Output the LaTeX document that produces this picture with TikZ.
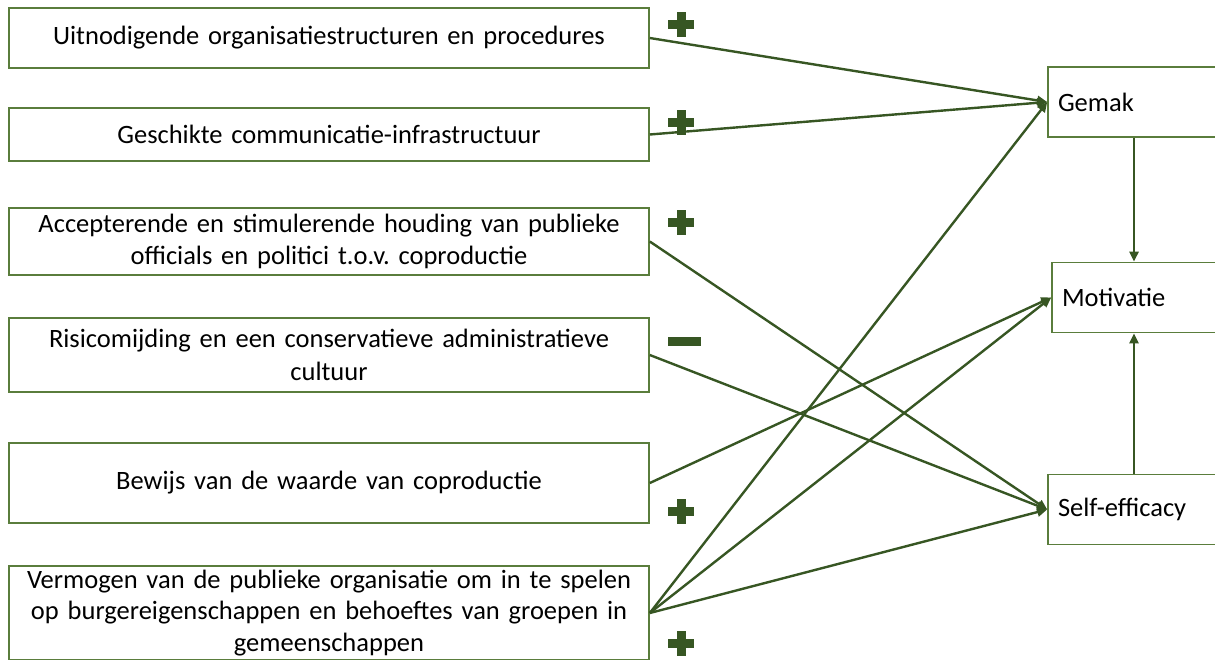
\documentclass[tikz,border=0pt]{standalone}
\usepackage{fontspec}
\setmainfont{Carlito}
\frenchspacing
\usetikzlibrary{arrows.meta,positioning}
\definecolor{boxgreen}{HTML}{5A7D3C}
\definecolor{darkgreen}{HTML}{375623}
\tikzset{plusmark/.pic={\fill[darkgreen] (-13,-4.5) rectangle (13,4.5); \fill[darkgreen] (-4.5,-12.5) rectangle (4.5,12.5);}}

\begin{document}
\begin{tikzpicture}[x=1pt,y=-1pt,every node/.style={font=\fontsize{26.5}{32.5}\selectfont},
  factor/.style={draw=boxgreen,line width=1.6pt,minimum width=640pt,text width=630pt,align=center,inner sep=0pt},
  effect/.style={draw=boxgreen,line width=1.6pt,minimum width=172pt,text width=152pt,inner xsep=10pt,inner ysep=0pt,align=left,minimum height=70pt},
  link/.style={draw=darkgreen,line width=2.4pt,-{Triangle[length=10pt,width=9pt]}}]
\useasboundingbox (0,0) rectangle (1215,659);
% factors on the left
\node[factor,minimum height=60pt] (f1) at (329,38) {Uitnodigende organisatiestructuren en procedures};
\node[factor,minimum height=53pt] (f2) at (329,134.5) {Geschikte communicatie-infrastructuur};
\node[factor,minimum height=67pt] (f3) at (329,241.5) {Accepterende en stimulerende houding van publieke\\officials en politici t.o.v. coproductie};
\node[factor,minimum height=74pt] (f4) at (329,355) {Risicomijding en een conservatieve administratieve\\cultuur};
\node[factor,minimum height=80pt] (f5) at (329,483) {Bewijs van de waarde van coproductie};
\node[factor,minimum height=94pt,font=\fontsize{26.5}{31.5}\selectfont] (f6) at (329,613) {Vermogen van de publieke organisatie om in te spelen\\op burgereigenschappen en behoeftes van groepen in\\gemeenschappen};
% outcomes on the right
\node[effect] (gemak) at (1134,102) {Gemak};
\node[effect,minimum width=164pt,text width=144pt] (motiv) at (1134,297.5) {Motivatie};
\node[effect] (self) at (1134,509.5) {Self-efficacy};
% links
\draw[link] (f1.east) -- (gemak.west);
\draw[link] (f2.east) -- (gemak.west);
\draw[link] (f3.east) -- (self.west);
\draw[link] (f4.east) -- (self.west);
\draw[link] (f5.east) -- (motiv.west);
\draw[link] (f6.east) -- (gemak.west);
\draw[link] (f6.east) -- (motiv.west);
\draw[link] (f6.east) -- (self.west);
\draw[link] (gemak.south) -- (motiv.north);
\draw[link] (self.north) -- (motiv.south);
% signs
\foreach \y in {24.5,122,222,511,643} \pic at (681,\y) {plusmark};
\fill[darkgreen] (668,337) rectangle (701,346);
\end{tikzpicture}
\end{document}
